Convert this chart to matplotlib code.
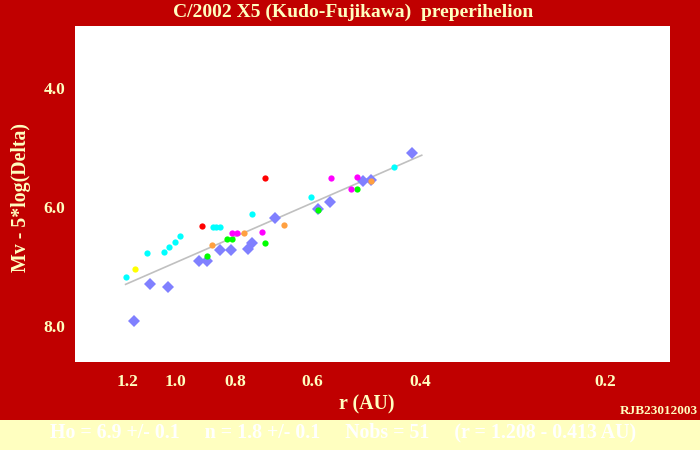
import matplotlib.pyplot as plt
from matplotlib.patches import Rectangle

# observations, grouped by marker colour: (r [AU], Mv - 5 log Delta)
cyan_r = [1.207, 1.112, 1.046, 1.027, 1.004, 0.983, 0.870, 0.859, 0.848, 0.752, 0.602, 0.441]
cyan_m = [7.17, 6.78, 6.75, 6.67, 6.58, 6.48, 6.33, 6.33, 6.33, 6.11, 5.84, 5.32]
yellow_r = [1.166]
yellow_m = [7.04]
red_r = [0.906, 0.716]
red_m = [6.32, 5.52]
blue_r = [1.170, 1.101, 1.029, 0.917, 0.891, 0.846, 0.813, 0.763, 0.751, 0.689, 0.588, 0.561, 0.496, 0.482, 0.413]
blue_m = [7.92, 7.30, 7.35, 6.91, 6.91, 6.73, 6.73, 6.71, 6.61, 6.19, 6.04, 5.92, 5.57, 5.55, 5.10]
green_r = [0.891, 0.824, 0.811, 0.715, 0.588, 0.508]
green_m = [6.82, 6.54, 6.54, 6.61, 6.05, 5.69]
magenta_r = [0.811, 0.796, 0.725, 0.560, 0.519, 0.508]
magenta_m = [6.44, 6.44, 6.42, 5.52, 5.69, 5.49]
orange_r = [0.873, 0.776, 0.667, 0.482]
orange_m = [6.64, 6.44, 6.30, 5.57]

# fitted line end points
fit_r = [1.207, 0.398]
fit_m = [7.30, 5.13]

xticks = [1.2, 1.0, 0.8, 0.6, 0.4, 0.2]
yticks = [4.0, 6.0, 8.0]

bg = '#C00000'
txt = '#FFFFC0'
font = 'Liberation Serif'

fig = plt.figure(figsize=(7, 4.5), dpi=100, facecolor=bg)
ax = fig.add_axes([75/700, 88/450, 595/700, 336/450])
ax.set_facecolor('white')

ax.plot(fit_r, fit_m, color='#C0C0C0', lw=1.2, zorder=1)

small = dict(marker='o', ms=4.5, ls='none', mew=0, zorder=3)
ax.plot(blue_r, blue_m, marker='D', ms=6.5, ls='none', mew=0, color='#8080FF', zorder=2)
ax.plot(cyan_r, cyan_m, color='#00FFFF', **small)
ax.plot(yellow_r, yellow_m, color='#FFFF00', **small)
ax.plot(red_r, red_m, color='#FF0000', **small)
ax.plot(green_r, green_m, color='#00FF00', **small)
ax.plot(magenta_r, magenta_m, color='#FF00FF', **small)
ax.plot(orange_r, orange_m, color='#FFA040', **small)

ax.set_xscale('log')
ax.set_xlim(1.459, 0.157)
ax.set_ylim(8.605, 2.958)
ax.set_xticks(xticks)
ax.set_xticklabels([f'{v:.1f}' for v in xticks])
ax.minorticks_off()
ax.set_yticks(yticks)
ax.set_yticklabels([f'{v:.1f}' for v in yticks])
ax.tick_params(length=0, colors=txt, labelsize=12.5)
ax.tick_params(axis='x', pad=9)
ax.tick_params(axis='y', pad=7)
for lab in ax.get_xticklabels() + ax.get_yticklabels():
    lab.set_fontfamily(font)
    lab.set_fontweight('bold')
for s in ax.spines.values():
    s.set_visible(False)

fig.text(353/700, 1 - 12/450, 'C/2002 X5 (Kudo-Fujikawa)  preperihelion',
         ha='center', va='center', color=txt, fontsize=14, family=font, weight='bold')
fig.text(367/700, 1 - 404/450, 'r (AU)', ha='center', va='center',
         color=txt, fontsize=14.3, family=font, weight='bold')
fig.text(21/700, 1 - 197/450, 'Mv - 5*log(Delta)', ha='center', va='center',
         rotation=90, color=txt, fontsize=14.3, family=font, weight='bold')
fig.text(698/700, 1 - 411/450, 'RJB23012003', ha='right', va='center',
         color=txt, fontsize=9.5, family=font, weight='bold')

# bottom band with fit summary
fig.patches.append(Rectangle((0, 0), 1, 30/450, transform=fig.transFigure,
                             facecolor='#FFFFC0', edgecolor='none', zorder=0))
fig.text(343/700, 1 - 432/450,
         'Ho = 6.9 +/- 0.1     n = 1.8 +/- 0.1     Nobs = 51     (r = 1.208 - 0.413 AU)',
         ha='center', va='center', color='white', fontsize=14.3, family=font, weight='bold')

fig.savefig('out.png', dpi=100, facecolor=bg)
